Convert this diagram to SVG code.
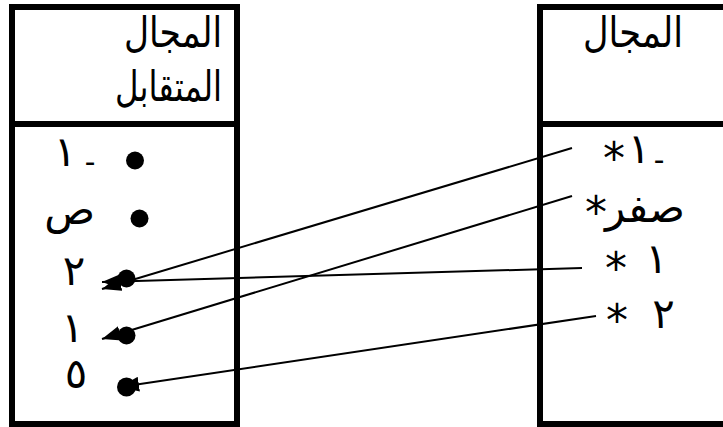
<svg xmlns="http://www.w3.org/2000/svg" width="723" height="427" viewBox="0 0 723 427">
<style>
.box{fill:none;stroke:#000;stroke-width:6}
.t{font-family:"Liberation Sans","DejaVu Sans",sans-serif;font-size:32px;fill:#000}
.a{font-family:"DejaVu Sans",sans-serif;font-size:42px;fill:#000}
.st{font-family:"DejaVu Sans",sans-serif;font-size:44px;fill:#000}
.c{stroke:#000;stroke-width:2;fill:none;marker-end:url(#ah)}
</style>
<defs>
<marker id="ah" viewBox="0 0 19 15" refX="19" refY="7.5" markerWidth="19" markerHeight="15" markerUnits="userSpaceOnUse" orient="auto">
<path d="M0,0 L19,7.5 L0,15 z" fill="#000"/>
</marker>
</defs>
<rect width="723" height="427" fill="#fff"/>
<g id="domain-codomain">
<path class="box" d="M12,4 V424 H237 V4 M12,7 H237 M12,124 H237"/>
<text class="a" x="222" y="47" text-anchor="end" textLength="98" lengthAdjust="spacingAndGlyphs">المجال</text>
<text class="a" x="222" y="101" text-anchor="end" textLength="107" lengthAdjust="spacingAndGlyphs">المتقابل</text>
</g>
<g id="domain">
<path class="box" d="M540,4 V424 H726 M540,7 H726 M540,124 H726"/>
<text class="a" x="683" y="47" text-anchor="end" textLength="100" lengthAdjust="spacingAndGlyphs">المجال</text>
</g>
<g id="l1">
<text class="a" x="65" y="166" text-anchor="middle">١</text>
<text class="t" x="90" y="172" text-anchor="middle">-</text>
<circle cx="135" cy="160.5" r="9"/>
</g>
<g id="l2">
<text class="a" x="95" y="224" text-anchor="end">ص</text>
<circle cx="139.5" cy="218.5" r="9"/>
</g>
<g id="l3">
<text class="a" x="74" y="285" text-anchor="middle">٢</text>
<circle cx="126.5" cy="278.5" r="9"/>
</g>
<g id="l4">
<text class="a" x="72.5" y="342" text-anchor="middle">١</text>
<circle cx="126.5" cy="335.5" r="9"/>
</g>
<g id="l5">
<text class="a" x="76" y="388" text-anchor="middle">٥</text>
<circle cx="126.5" cy="387" r="9.5"/>
</g>
<g id="r1">
<text class="st" x="614" y="174" text-anchor="middle">*</text>
<text class="a" x="639" y="163" text-anchor="middle">١</text>
<text class="t" x="659" y="170" text-anchor="middle">-</text>
</g>
<g id="r2">
<text class="st" x="596" y="228" text-anchor="middle">*</text>
<text class="a" x="685" y="222" text-anchor="end">صفر</text>
</g>
<g id="r3">
<text class="st" x="616" y="284" text-anchor="middle">*</text>
<text class="a" x="656.5" y="273" text-anchor="middle">١</text>
</g>
<g id="r4">
<text class="st" x="617" y="336" text-anchor="middle">*</text>
<text class="a" x="663.5" y="328" text-anchor="middle">٢</text>
</g>
<g id="connectors">
<line class="c" x1="572" y1="148" x2="102" y2="289"/>
<line class="c" x1="582" y1="268" x2="102" y2="282"/>
<line class="c" x1="572" y1="196" x2="102" y2="339"/>
<line class="c" x1="596" y1="316" x2="120" y2="387"/>
</g>
</svg>
